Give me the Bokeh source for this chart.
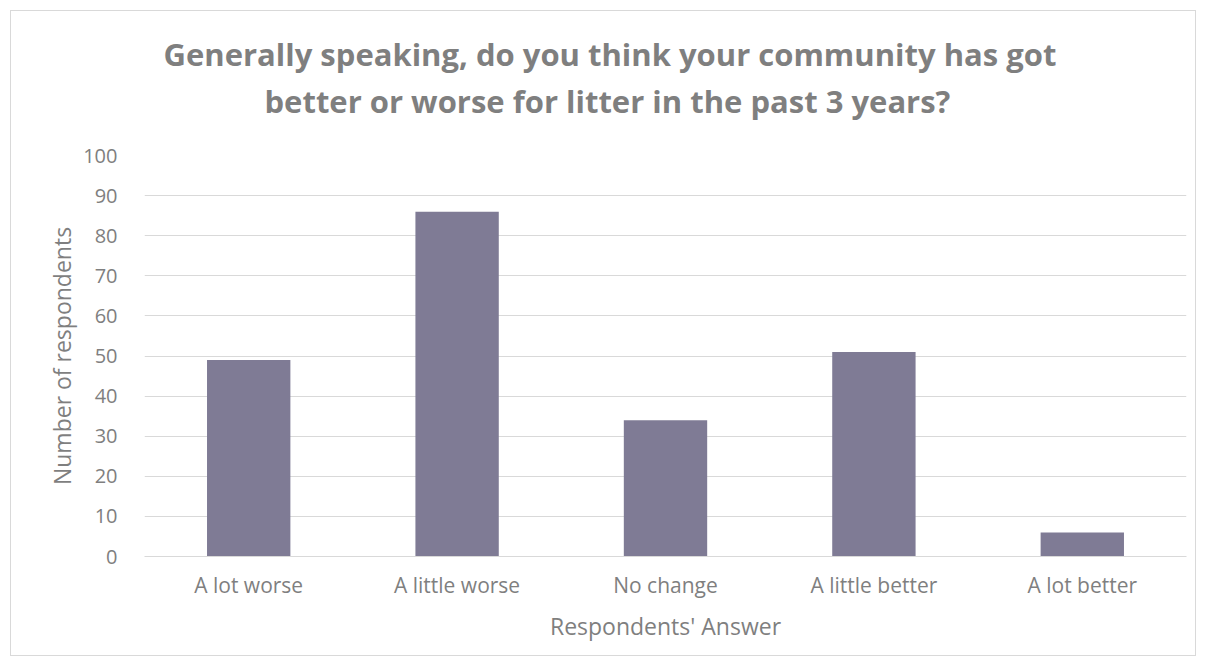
from bokeh.plotting import figure
from bokeh.models import Range1d, Title, FixedTicker
from bokeh.embed import file_html
from bokeh.resources import INLINE

categories = ["A lot worse", "A little worse", "No change", "A little better", "A lot better"]
counts = [49, 86, 34, 51, 6]
y_ticks = [0, 10, 20, 30, 40, 50, 60, 70, 80, 90, 100]
title_lines = ["Generally speaking, do you think your community has got",
               "better or worse for litter in the past 3 years?"]

FONT = "Open Sans"
GRAY = "#7f7f7f"

p = figure(x_range=categories, width=1186, height=646, output_backend="svg",
           toolbar_location=None, tools="", margin=(10, 10, 10, 10),
           min_border_left=133, min_border_right=11, min_border_bottom=101, min_border_top=144)
p.styles = {"border": "1px solid #d9d9d9"}
p.y_range = Range1d(0, 100)
p.vbar(x=categories, top=counts, width=0.4, color="#7f7b95", line_color=None)

spacer = Title(text=" ", text_font_size="10px", standoff=17)
t2 = Title(text=title_lines[1], align="left", offset=120,
           text_font=FONT, text_font_size="31px", text_font_style="bold",
           text_color=GRAY, standoff=7)
t1 = Title(text=title_lines[0], align="left", offset=19,
           text_font=FONT, text_font_size="31px", text_font_style="bold",
           text_color=GRAY, standoff=0)
p.add_layout(spacer, "above")
p.add_layout(t2, "above")
p.add_layout(t1, "above")

p.outline_line_color = None
p.xgrid.grid_line_color = None
p.ygrid.grid_line_color = "#d9d9d9"
p.ygrid.grid_line_width = 1

p.yaxis.ticker = FixedTicker(ticks=y_ticks)
p.yaxis.axis_line_color = None
p.yaxis.major_tick_line_color = None
p.yaxis.minor_tick_line_color = None
p.yaxis.major_label_text_font = FONT
p.yaxis.major_label_text_font_size = "20px"
p.yaxis.major_label_text_color = GRAY
p.yaxis.major_label_standoff = 21
p.yaxis.axis_label = "Number of respondents"
p.yaxis.axis_label_text_font = FONT
p.yaxis.axis_label_text_font_size = "23px"
p.yaxis.axis_label_text_font_style = "normal"
p.yaxis.axis_label_text_color = GRAY
p.yaxis.axis_label_standoff = 2

p.xaxis.axis_line_color = "#d9d9d9"
p.xaxis.major_tick_line_color = None
p.xaxis.minor_tick_line_color = None
p.xaxis.major_label_text_font = FONT
p.xaxis.major_label_text_font_size = "21px"
p.xaxis.major_label_text_color = GRAY
p.xaxis.major_label_standoff = 8
p.xaxis.axis_label = "Respondents' Answer"
p.xaxis.axis_label_text_font = FONT
p.xaxis.axis_label_text_font_size = "23px"
p.xaxis.axis_label_text_font_style = "normal"
p.xaxis.axis_label_text_color = GRAY
p.xaxis.axis_label_standoff = 8

open("out.html", "w").write(file_html(p, INLINE))
